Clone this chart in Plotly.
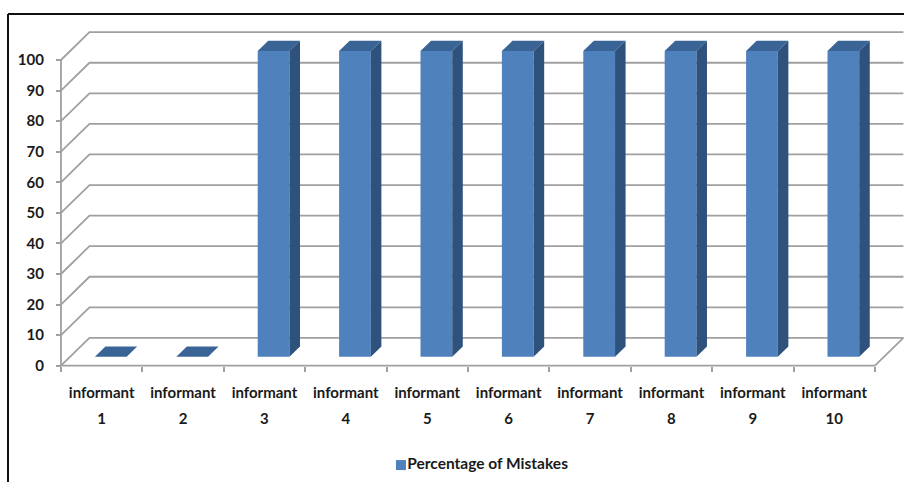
import plotly.graph_objects as go

# ---- data ----
categories = [f"informant {i}" for i in range(1, 11)]
cat_line1 = ["informant"] * 10
cat_line2 = [str(i) for i in range(1, 11)]
mistakes_pct = [0, 0, 100, 100, 100, 100, 100, 100, 100, 100]
y_ticks = [0, 10, 20, 30, 40, 50, 60, 70, 80, 90, 100]
series_name = "Percentage of Mistakes"

# ---- style / 3-D projection parameters (in axis units) ----
DX = 0.35      # oblique depth shift along x (category units)
DY = 9.1       # oblique depth shift along y (value units)
F0, F1 = 0.32, 0.69   # front / back depth fraction of the columns
BAR_W = 0.39   # column width as fraction of category slot

FRONT = "#4F81BD"
TOP = "#3A6496"
SIDE = "#2F527D"
GRID = "#A0A0A0"
FONT = dict(family="Lato", size=15, color="#1a1a1a", weight=700)
LEG_FONT = dict(family="Lato", size=15.5, color="#1a1a1a", weight=700)

X_RANGE = [-0.749, 10.357]
Y_RANGE = [-38.04, 119.63]

fig = go.Figure()

# walls: side-wall diagonals and back-wall gridlines for every tick value
n = len(categories)
gx, gy = [], []
for v in y_ticks:
    gx += [0, DX, n + DX, None]
    gy += [v, v + DY, v + DY, None]
# vertical axis line and floor outline
gx += [0, 0, None, 0, n, n + DX, None]
gy += [0, y_ticks[-1], None, 0, 0, DY, None]
fig.add_trace(go.Scatter(x=gx, y=gy, mode="lines", hoverinfo="skip",
                         line=dict(color=GRID, width=1.8), showlegend=False))

# columns: front, top and right-side faces computed from the values
fx, fy, tx, ty, sx, sy = [], [], [], [], [], []
d = F1 - F0
for i, v in enumerate(mistakes_pct):
    cx = i + 0.5
    xl = cx - BAR_W / 2 + F0 * DX
    xr = cx + BAR_W / 2 + F0 * DX
    yb = F0 * DY
    yt = v + F0 * DY
    if v > 0:
        fx += [xl, xr, xr, xl, xl, None]
        fy += [yb, yb, yt, yt, yb, None]
        sx += [xr, xr + d * DX, xr + d * DX, xr, xr, None]
        sy += [yb, yb + d * DY, yt + d * DY, yt, yb, None]
    tx += [xl, xr, xr + d * DX, xl + d * DX, xl, None]
    ty += [yt, yt, yt + d * DY, yt + d * DY, yt, None]

for xs, ys, col in [(fx, fy, FRONT), (tx, ty, TOP), (sx, sy, SIDE)]:
    fig.add_trace(go.Scatter(x=xs, y=ys, mode="lines", fill="toself",
                             fillcolor=col, line=dict(width=0, color=col),
                             hoverinfo="skip", showlegend=False))

# category labels (two lines, centred under each slot)
centers = [i + 0.5 for i in range(n)]
px_per_val = 482 / (Y_RANGE[1] - Y_RANGE[0])
fig.add_trace(go.Scatter(x=centers, y=[-28.5 / px_per_val] * n,
                         mode="text", text=cat_line1, textfont=FONT,
                         hoverinfo="skip", showlegend=False))
fig.add_trace(go.Scatter(x=centers, y=[-55.0 / px_per_val] * n,
                         mode="text", text=cat_line2, textfont=FONT,
                         hoverinfo="skip", showlegend=False))

# legend
fig.add_trace(go.Scatter(x=[4.177], y=[-32.5], mode="markers",
                         marker=dict(symbol="square", size=10, color=FRONT),
                         hoverinfo="skip", showlegend=False))
fig.add_trace(go.Scatter(x=[4.255], y=[-32.6], mode="text",
                         text=[series_name], textposition="middle right",
                         textfont=LEG_FONT, hoverinfo="skip", showlegend=False))

x_pos = (0 - X_RANGE[0]) / (X_RANGE[1] - X_RANGE[0])
y_pos = (0 - Y_RANGE[0]) / (Y_RANGE[1] - Y_RANGE[0])

fig.update_layout(
    width=904, height=482, autosize=False,
    margin=dict(l=0, r=0, t=0, b=0),
    paper_bgcolor="white", plot_bgcolor="white",
    showlegend=False,
    xaxis=dict(range=X_RANGE, showgrid=False, zeroline=False, showline=False,
               tickvals=list(range(n + 1)), showticklabels=False,
               ticks="outside", ticklen=5, tickwidth=1.5, tickcolor=GRID,
               anchor="free", position=y_pos, automargin=False, fixedrange=True),
    yaxis=dict(range=Y_RANGE, showgrid=False, zeroline=False, showline=False,
               tickvals=y_ticks, ticks="outside", ticklen=5, tickwidth=1.5,
               tickcolor=GRID, tickfont=FONT, ticklabelstandoff=9,
               anchor="free", position=x_pos, automargin=False, fixedrange=True),
    shapes=[
        dict(type="line", xref="paper", yref="paper",
             x0=8 / 904, x1=1.05, y0=1 - 14 / 482, y1=1 - 14 / 482,
             line=dict(color="#111111", width=2)),
        dict(type="line", xref="paper", yref="paper",
             x0=8 / 904, x1=8 / 904, y0=-0.05, y1=1 - 14 / 482,
             line=dict(color="#111111", width=2)),
    ],
)

fig.write_html("out.html")
